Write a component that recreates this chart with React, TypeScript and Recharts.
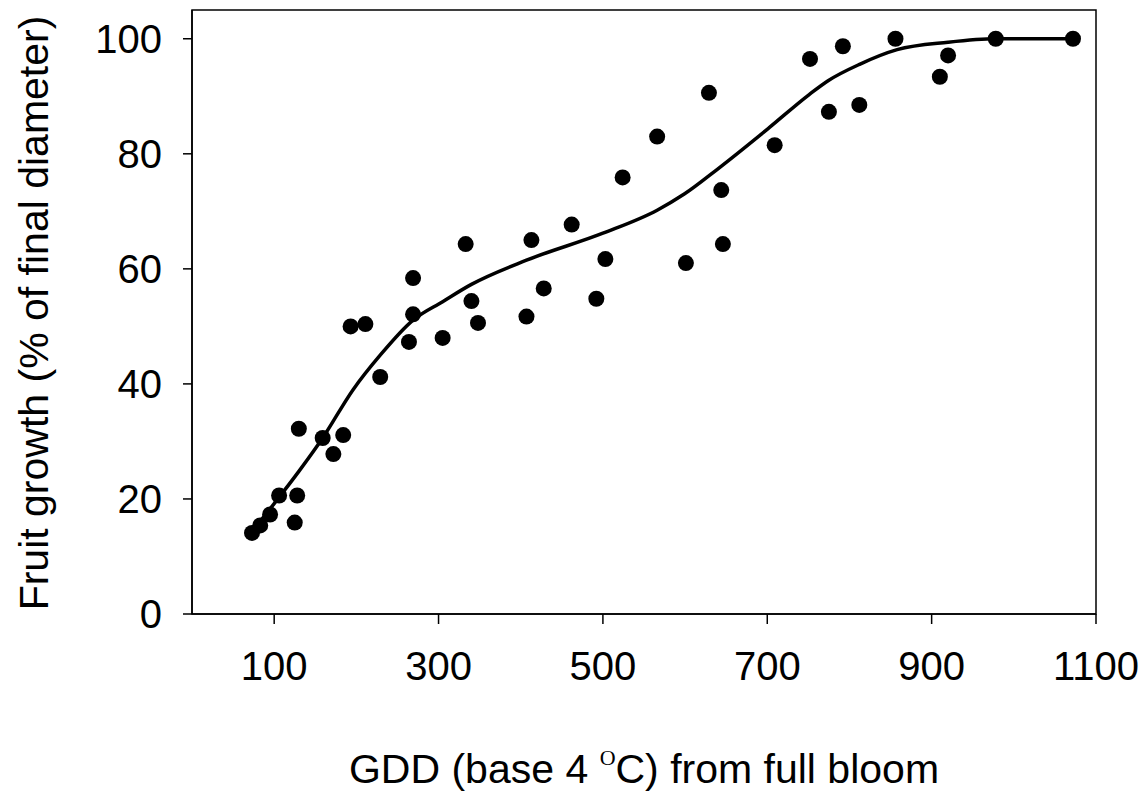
import React from "react";
import {
  ComposedChart,
  XAxis,
  YAxis,
  Scatter,
  Line,
  ReferenceArea,
  Label,
} from "recharts";

// Observed fruit growth points
const gddObs = [73, 83, 95, 106, 125, 128, 130, 159, 172, 184, 193, 211, 229, 264, 269, 269, 305, 333, 340, 348, 407, 413, 428, 462, 492, 503, 524, 566, 601, 629, 644, 646, 709, 752, 775, 792, 812, 856, 910, 920, 978, 1072];
const growthObs = [14.1, 15.4, 17.3, 20.6, 15.9, 20.6, 32.2, 30.6, 27.8, 31.1, 50.0, 50.4, 41.2, 47.3, 52.1, 58.4, 48.0, 64.3, 54.4, 50.6, 51.7, 65.0, 56.6, 67.7, 54.8, 61.7, 75.9, 83.0, 61.0, 90.6, 73.7, 64.3, 81.5, 96.5, 87.3, 98.7, 88.5, 100, 93.4, 97.1, 100, 100];

// Fitted curve
const gddFit = [73, 100, 130, 159, 196, 229, 269, 305, 340, 407, 500, 566, 599, 640, 702, 751, 774, 813, 858, 920, 978, 1072];
const growthFit = [14.3, 19.2, 24.8, 30.6, 39.0, 45.0, 51.1, 54.3, 57.3, 61.5, 66.2, 70.2, 73.0, 77.4, 84.5, 90.3, 92.7, 95.6, 98.1, 99.4, 100, 100];

const xTicks = [100, 300, 500, 700, 900, 1100];
const yTicks = [0, 20, 40, 60, 80, 100];

const obsData = gddObs.map((x, i) => ({ x, y: growthObs[i] }));
const fitData = gddFit.map((x, i) => ({ x, y: growthFit[i] }));

const FONT = "'Liberation Sans', Arial, Helvetica, sans-serif";

export default function App() {
  return (
    <div style={{ position: "absolute", left: 0, top: 0, width: 1147, height: 792, background: "#fff" }}>
      <ComposedChart
        width={1147}
        height={792}
        margin={{ top: 10, right: 51, bottom: 0, left: 0 }}
        style={{ fontFamily: FONT }}
      >
        <XAxis
          type="number"
          dataKey="x"
          domain={[0, 1100]}
          ticks={xTicks}
          allowDataOverflow
          height={178}
          tickSize={10}
          tickMargin={28}
          axisLine={{ stroke: "#000", strokeWidth: 1.5 }}
          tickLine={{ stroke: "#000", strokeWidth: 1.5 }}
          tick={{ fill: "#000", fontSize: 40, fontFamily: FONT }}
        >
          <Label
            content={() => (
              <text
                x={644}
                y={783}
                textAnchor="middle"
                fontSize={41}
                fontFamily={FONT}
                fill="#000"
              >
                <tspan>GDD (base 4 </tspan>
                <tspan fontFamily="'Liberation Serif', 'Times New Roman', serif" fontSize={22} dy={-18}>O</tspan>
                <tspan dy={18}>C) from full bloom</tspan>
              </text>
            )}
          />
        </XAxis>
        <YAxis
          type="number"
          dataKey="y"
          domain={[0, 105]}
          ticks={yTicks}
          allowDataOverflow
          width={192}
          tickSize={9}
          tickMargin={21}
          axisLine={{ stroke: "#000", strokeWidth: 1.5 }}
          tickLine={{ stroke: "#000", strokeWidth: 1.5 }}
          tick={{ fill: "#000", fontSize: 40, fontFamily: FONT }}
        >
          <Label
            content={() => (
              <text
                x={48}
                y={313}
                transform="rotate(-90 48 313)"
                textAnchor="middle"
                fontSize={41}
                fontFamily={FONT}
                fill="#000"
              >
                Fruit growth (% of final diameter)
              </text>
            )}
          />
        </YAxis>
        <ReferenceArea
          x1={0}
          x2={1100}
          y1={0}
          y2={105}
          fill="none"
          fillOpacity={0}
          stroke="#000"
          strokeWidth={1.5}
          ifOverflow="visible"
        />
        <Line
          data={fitData}
          dataKey="y"
          type="monotone"
          stroke="#000"
          strokeWidth={3.5}
          dot={false}
          activeDot={false}
          isAnimationActive={false}
        />
        <Scatter
          data={obsData}
          dataKey="y"
          fill="#000"
          isAnimationActive={false}
          shape={(props: any) => <circle cx={props.cx} cy={props.cy} r={8} fill="#000" />}
        />
      </ComposedChart>
    </div>
  );
}
